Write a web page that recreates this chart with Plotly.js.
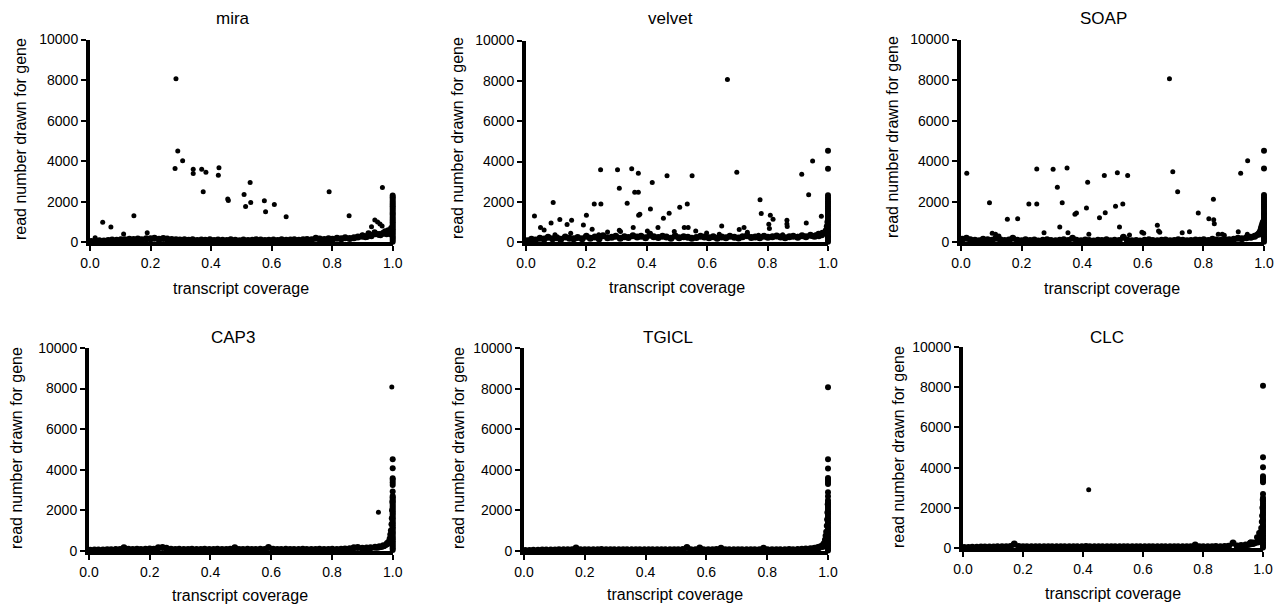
<!DOCTYPE html>
<html><head><meta charset="utf-8">
<script src="https://cdn.plot.ly/plotly-3.0.1.min.js"></script>
<style>html,body{margin:0;padding:0;background:#fff}#chart{width:1281px;height:606px}</style>
</head><body><div id="chart"></div>
<script>
// ---------- data ----------
const panelNames = ["mira", "velvet", "SOAP", "CAP3", "TGICL", "CLC"];
const xTickVals = [0, 0.2, 0.4, 0.6, 0.8, 1.0];
const xTickText = ["0.0", "0.2", "0.4", "0.6", "0.8", "1.0"];
const yTickVals = [0, 2000, 4000, 6000, 8000, 10000];
const yTickText = ["0", "2000", "4000", "6000", "8000", "10000"];

// dense low band of genes (shared coverage positions)
const bandX = [0.004,0.018,0.031,0.046,0.06,0.073,0.088,0.102,0.115,0.13,0.144,0.158,0.171,0.186,0.2,0.213,0.228,0.242,0.255,0.27,0.284,0.297,0.312,0.326,0.339,0.354,0.368,0.381,0.396,0.41,0.423,0.438,0.452,0.465,0.48,0.494,0.507,0.522,0.536,0.549,0.564,0.578,0.591,0.606,0.62,0.633,0.648,0.662,0.675,0.69,0.704,0.717,0.732,0.746,0.759,0.774,0.788,0.801,0.816,0.83,0.843,0.858,0.872,0.885,0.9,0.914,0.927,0.942,0.956,0.969,0.982,0.993];

const miraBandY = [40,60,80,70,90,110,100,130,120,150,140,160,130,180,170,200,150,190,160,140,120,110,130,100,120,90,110,100,120,90,110,100,90,120,100,80,110,90,100,120,110,90,100,110,90,120,100,110,130,100,120,140,130,200,160,140,180,150,200,170,220,190,230,260,300,280,350,420,380,450,500,420];
const velvetBandY = [80,150,120,200,160,250,180,220,150,260,200,180,240,170,300,200,260,180,320,220,250,300,200,280,240,320,260,300,220,350,280,240,300,260,200,310,230,280,250,200,240,300,260,220,280,200,260,230,300,250,210,280,320,240,260,220,300,250,280,310,260,230,280,300,250,330,280,350,300,400,450,520];
const soapBandY = [150,200,120,100,80,150,120,100,200,130,90,110,200,100,80,120,90,110,70,100,130,90,80,100,120,90,200,100,80,110,90,70,100,90,120,80,100,90,250,100,80,90,70,100,120,90,80,100,110,80,90,120,100,80,90,110,100,120,90,150,110,100,130,120,150,200,180,220,250,300,400,600];
const cap3BandY = [20,30,40,40,50,50,60,60,150,70,60,70,60,70,80,70,150,160,120,70,60,70,60,60,70,60,60,70,60,60,70,60,60,70,150,60,60,70,60,60,70,60,160,70,60,60,70,60,60,60,70,60,60,60,70,60,60,70,60,70,80,100,150,160,120,130,150,170,200,250,350,500];
const tgiclBandY = [20,30,35,40,45,50,50,55,60,60,60,60,150,60,60,60,60,60,70,60,60,60,60,60,60,60,60,60,60,60,60,60,60,60,60,60,60,70,170,60,60,150,60,60,60,70,140,60,60,60,60,60,60,60,60,60,140,60,60,60,60,60,70,60,80,90,100,110,130,160,220,350];
const clcBandY = [20,30,40,40,45,50,50,55,60,60,60,70,200,80,60,60,60,60,60,60,60,60,60,60,60,60,60,60,60,70,60,60,60,60,60,60,60,60,60,60,60,60,60,60,60,60,60,60,60,60,60,60,60,60,60,150,60,60,60,60,70,60,80,90,250,100,120,150,200,250,300,500];

// genes with full coverage (x = 1.0)
const miraFullY = [30,120,210,290,380,470,560,640,730,820,900,990,1080,1160,1250,1340,1420,1510,1600,1690,1780,1860,1950,2040,2130,2220,2310];
const velvetFullY = [30,120,210,290,380,470,560,640,730,820,900,990,1080,1160,1250,1340,1420,1510,1600,1690,1780,1860,1950,2040,2130,2220,2330,3642,4536];
const soapFullY = [30,120,210,290,380,470,560,640,730,820,900,990,1080,1160,1250,1340,1420,1510,1600,1690,1780,1860,1950,2040,2130,2220,2330,3645,4516];
const cap3FullY = [30,120,210,290,380,470,560,640,730,820,900,990,1080,1160,1250,1340,1420,1510,1600,1690,1780,1860,1950,2040,2130,2220,2310,2400,2480,2560,2640,2700,2916,3245,3361,3493,3575,4069,4514];
const tgiclFullY = [30,120,210,290,380,470,560,640,730,820,900,990,1080,1160,1250,1340,1420,1510,1600,1690,1780,1860,1950,2040,2130,2220,2310,2400,2500,2700,2900,3300,3400,3500,3600,4069,4514,8070];
const clcFullY = [30,120,210,290,380,470,560,640,730,820,900,990,1080,1160,1250,1340,1420,1510,1600,1690,1780,1860,1950,2040,2130,2220,2310,2400,2500,2687,3267,3350,3430,3500,3565,4013,4511,8070];

// genes near full coverage (rising tail)
const miraTailX = [0.9,0.91,0.92,0.93,0.94,0.95,0.96,0.97,0.975,0.98,0.985,0.99,0.995];
const miraTailY = [350,250,450,300,500,400,350,450,550,400,600,500,700];
const velvetTailX = [0.95,0.96,0.97,0.975,0.98,0.985,0.99,0.993,0.996,0.998];
const velvetTailY = [300,350,300,400,350,450,500,600,800,1000];
const soapTailX = [0.96,0.97,0.975,0.98,0.985,0.988,0.99,0.992,0.994,0.996,0.998];
const soapTailY = [250,300,350,400,500,600,700,800,900,1000,950];
const lowTailX = [0.95,0.96,0.965,0.97,0.975,0.98,0.984,0.987,0.99,0.992,0.994,0.996,0.997,0.998,0.999];
const cap3TailY = [150,180,200,230,260,300,380,450,600,800,1000,1300,1600,2000,2400];
const tgiclTailY = [120,150,180,200,230,260,330,400,550,750,950,1250,1550,1900,2300];
const clcTailY = [150,280,200,230,260,530,380,746,600,800,1000,1300,1600,2000,2400];

// scattered outliers
const miraOutX = [0.284,0.290,0.306,0.281,0.341,0.341,0.369,0.383,0.374,0.426,0.424,0.455,0.457,0.509,0.529,0.514,0.531,0.576,0.580,0.609,0.648,0.790,0.856,0.966,0.941,0.950,0.958,0.965,0.930,0.017,0.042,0.069,0.111,0.145,0.189];
const miraOutY = [8070,4508,4016,3639,3607,3393,3607,3459,2492,3672,3311,2131,2066,2361,2951,1770,1967,2049,1508,1869,1262,2492,1311,2705,1098,1000,900,800,767,230,984,754,410,1311,475];
const velvetOutX = [0.667,0.949,0.913,0.936,0.698,0.775,0.779,0.809,0.818,0.804,0.806,0.864,0.864,0.865,0.928,0.978,0.706,0.722,0.733,0.648,0.247,0.248,0.303,0.309,0.350,0.372,0.335,0.360,0.372,0.377,0.373,0.418,0.412,0.467,0.550,0.455,0.474,0.509,0.534,0.524,0.537,0.562,0.598,0.355,0.437,0.309,0.313,0.028,0.048,0.060,0.090,0.083,0.112,0.136,0.151,0.148,0.096,0.190,0.200,0.226,0.219,0.270,0.241,0.402,0.412,0.491,0.640,0.770,0.850,0.900];
const velvetOutY = [8070,4023,3377,2351,3477,2103,1424,1341,1142,900,680,1093,910,778,960,1291,630,728,497,811,3593,1904,3593,2682,3642,3427,1937,2483,2483,1390,1341,2963,1656,3295,3295,1192,1440,1738,1904,728,728,563,460,728,728,600,530,1308,728,614,1970,960,1126,878,1093,450,380,862,1341,1904,646,513,380,563,450,530,400,350,380,300];
const soapOutX = [0.688,0.946,0.923,0.699,0.715,0.019,0.094,0.103,0.114,0.125,0.153,0.187,0.224,0.250,0.250,0.274,0.304,0.318,0.326,0.334,0.350,0.353,0.376,0.381,0.418,0.414,0.422,0.457,0.476,0.473,0.510,0.516,0.523,0.534,0.550,0.556,0.597,0.603,0.648,0.652,0.656,0.730,0.754,0.783,0.818,0.833,0.834,0.836,0.849,0.862,0.869,0.915,0.945];
const soapOutY = [8070,4023,3399,3481,2496,3399,1954,443,394,312,1133,1166,1888,1888,3612,476,3596,2709,755,1954,3662,476,1379,1445,2956,1691,394,1215,1461,3300,1773,3432,755,1888,3300,361,493,443,837,558,493,476,525,1445,1166,2118,1117,920,394,394,345,525,394];
const cap3OutX = [0.997,0.953];
const cap3OutY = [8070,1895];
const tgiclOutX = [];
const tgiclOutY = [];
const clcOutX = [0.419,0.902,0.956];
const clcOutY = [2902,249,282];

// ---------- build ----------
const series = [
  [miraBandY, miraTailX, miraTailY, miraFullY, miraOutX, miraOutY],
  [velvetBandY, velvetTailX, velvetTailY, velvetFullY, velvetOutX, velvetOutY],
  [soapBandY, soapTailX, soapTailY, soapFullY, soapOutX, soapOutY],
  [cap3BandY, lowTailX, cap3TailY, cap3FullY, cap3OutX, cap3OutY],
  [tgiclBandY, lowTailX, tgiclTailY, tgiclFullY, tgiclOutX, tgiclOutY],
  [clcBandY, lowTailX, clcTailY, clcFullY, clcOutX, clcOutY]
];

const W = 1281, H = 606;
// plot boxes in pixels: [left, right, top, bottom]
const boxes = [
  [90, 392.7, 39.5, 242.3],
  [526, 828, 40.5, 242.3],
  [961, 1264, 39.5, 242.3],
  [89, 392.7, 348, 550.7],
  [524, 828, 348, 551],
  [963, 1263, 347, 548]
];
const titlePos = [[233,18],[670,18],[1103,18],[233,337],[668,337],[1107,337]];
const xTitlePos = [[241,288],[677,287],[1112,288],[240,595],[675,594],[1113,593]];
const yTitlePos = [[20,139],[457,138],[892,137],[16,448],[458,448],[898,447]];

const font = "Liberation Sans, Arial, Helvetica, sans-serif";
const traces = [];
const layout = {
  width: W, height: H,
  margin: {l: 0, r: 0, t: 0, b: 0},
  paper_bgcolor: "#fff", plot_bgcolor: "#fff",
  showlegend: false,
  font: {family: font, color: "#000"},
  annotations: []
};
const px = v => v / W, py = v => 1 - v / H;

series.forEach((s, i) => {
  const [bandY, tailX, tailY, fullY, outX, outY] = s;
  const n = i === 0 ? "" : String(i + 1);
  const base = {
    type: "scatter", mode: "markers",
    xaxis: "x" + n, yaxis: "y" + n,
    cliponaxis: false, hoverinfo: "skip", name: panelNames[i]
  };
  // dense band
  traces.push(Object.assign({}, base, {
    x: bandX, y: bandY, marker: {size: 7, color: "#000", line: {width: 0}}
  }));
  // tail + full-coverage column
  traces.push(Object.assign({}, base, {
    x: [].concat(tailX, fullY.map(() => 1.0)), y: [].concat(tailY, fullY),
    marker: {size: 6, color: "#000", line: {width: 0}}
  }));
  // scattered outliers
  traces.push(Object.assign({}, base, {
    x: outX, y: outY, marker: {size: 5, color: "#000", line: {width: 0}}
  }));
  const b = boxes[i];
  const common = {
    showline: true, linecolor: "#000", linewidth: 4,
    ticks: "outside", ticklen: 5, tickwidth: 2, tickcolor: "#000",
    showgrid: false, zeroline: false, fixedrange: true,
    tickfont: {family: font, size: 14, color: "#000"}
  };
  layout["xaxis" + n] = Object.assign({}, common, {
    domain: [px(b[0]), px(b[1])], range: [0, 1],
    tickvals: xTickVals, ticktext: xTickText, anchor: "y" + n
  });
  layout["yaxis" + n] = Object.assign({}, common, {
    domain: [py(b[3]), py(b[2])], range: [0, 10000],
    tickvals: yTickVals, ticktext: yTickText, anchor: "x" + n
  });
  layout.annotations.push({
    text: panelNames[i], xref: "paper", yref: "paper",
    x: px(titlePos[i][0]), y: py(titlePos[i][1]),
    xanchor: "center", yanchor: "middle", showarrow: false,
    font: {family: font, size: 17, color: "#000"}
  });
  layout.annotations.push({
    text: "transcript coverage", xref: "paper", yref: "paper",
    x: px(xTitlePos[i][0]), y: py(xTitlePos[i][1]),
    xanchor: "center", yanchor: "middle", showarrow: false,
    font: {family: font, size: 16, color: "#000"}
  });
  layout.annotations.push({
    text: "read number drawn for gene", xref: "paper", yref: "paper",
    x: px(yTitlePos[i][0]), y: py(yTitlePos[i][1]), textangle: -90,
    xanchor: "center", yanchor: "middle", showarrow: false,
    font: {family: font, size: 16, color: "#000"}
  });
});

Plotly.newPlot("chart", traces, layout, {displayModeBar: false, staticPlot: true});
</script>
</body></html>
